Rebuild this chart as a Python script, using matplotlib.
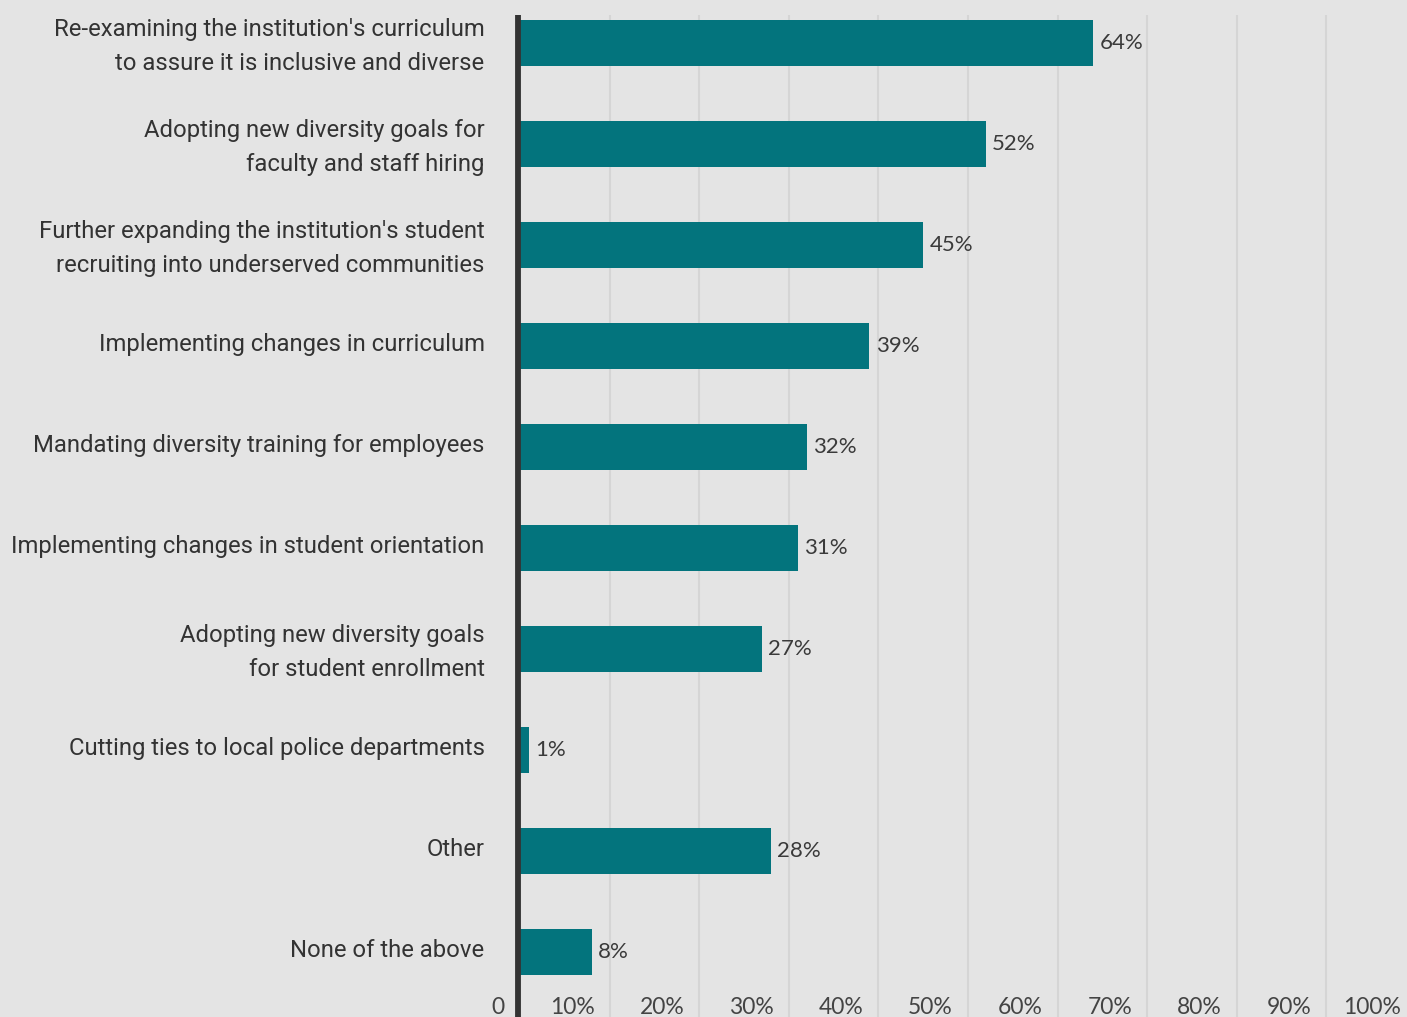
import matplotlib
matplotlib.use("Agg")
import matplotlib.pyplot as plt
import matplotlib.transforms as mtransforms

categories = [
    "Re-examining the institution's curriculum\nto assure it is inclusive and diverse",
    "Adopting new diversity goals for\nfaculty and staff hiring",
    "Further expanding the institution's student\nrecruiting into underserved communities",
    "Implementing changes in curriculum",
    "Mandating diversity training for employees",
    "Implementing changes in student orientation",
    "Adopting new diversity goals\nfor student enrollment",
    "Cutting ties to local police departments",
    "Other",
    "None of the above",
]
values = [64, 52, 45, 39, 32, 31, 27, 1, 28, 8]
x_ticks = [0, 10, 20, 30, 40, 50, 60, 70, 80, 90, 100]
x_tick_labels = ["0"] + [f"{v}%" for v in x_ticks[1:]]

BG = "#e4e4e4"
BAR = "#03747d"
TXT = "#333333"

W, H = 1407, 1017
fig = plt.figure(figsize=(W / 100, H / 100), dpi=100)
fig.patch.set_facecolor(BG)

left_px, right_px, top_px, bottom_px = 520, 1416, 15, 1017
ax = fig.add_axes([left_px / W, 1 - bottom_px / H, (right_px - left_px) / W, (bottom_px - top_px) / H])
ax.set_facecolor(BG)

ypos = list(range(len(categories)))
ax.barh(ypos, values, height=0.455, color=BAR, zorder=2)

ax.set_xlim(0, 100)
ax.set_ylim(9.64, -0.277)

for s in ax.spines.values():
    s.set_visible(False)

ax.set_xticks(x_ticks)
ax.set_xticklabels(x_tick_labels, fontfamily="Lato", fontsize=16.5, color="#444444")
ax.tick_params(axis="x", length=0, pad=-14.5)
offset = mtransforms.ScaledTranslation(-15 / 100, 0, fig.dpi_scale_trans)
for t in ax.get_xticklabels():
    t.set_ha("right")
    t.set_transform(t.get_transform() + offset)

ax.set_yticks(ypos)
ax.set_yticklabels(categories, fontfamily="Roboto", fontsize=17.2, color=TXT)
ax.tick_params(axis="y", length=0, pad=25.5)
yoff = mtransforms.ScaledTranslation(0, 4.5 / 100, fig.dpi_scale_trans)
for t in ax.get_yticklabels():
    t.set_linespacing(1.6)
    t.set_transform(t.get_transform() + yoff)

ax.grid(axis="x", color="#d5d5d5", linewidth=1.5, zorder=0)
ax.grid(axis="y", visible=False)
ax.set_axisbelow(True)
line_off = mtransforms.ScaledTranslation(-2 / 100, 0, fig.dpi_scale_trans)
ax.plot([0, 0], [0, 1], color="#333333", linewidth=4.2, zorder=3,
        solid_capstyle="butt", clip_on=False,
        transform=ax.get_xaxis_transform() + line_off)

for y, v in zip(ypos, values):
    ax.annotate(f"{v}%", xy=(v, y), xytext=(4.5, 0), textcoords="offset points",
                ha="left", va="center", fontfamily="Lato", fontsize=16,
                color="#3a3a3a", zorder=4)

fig.savefig("out.png", dpi=100, facecolor=BG)
